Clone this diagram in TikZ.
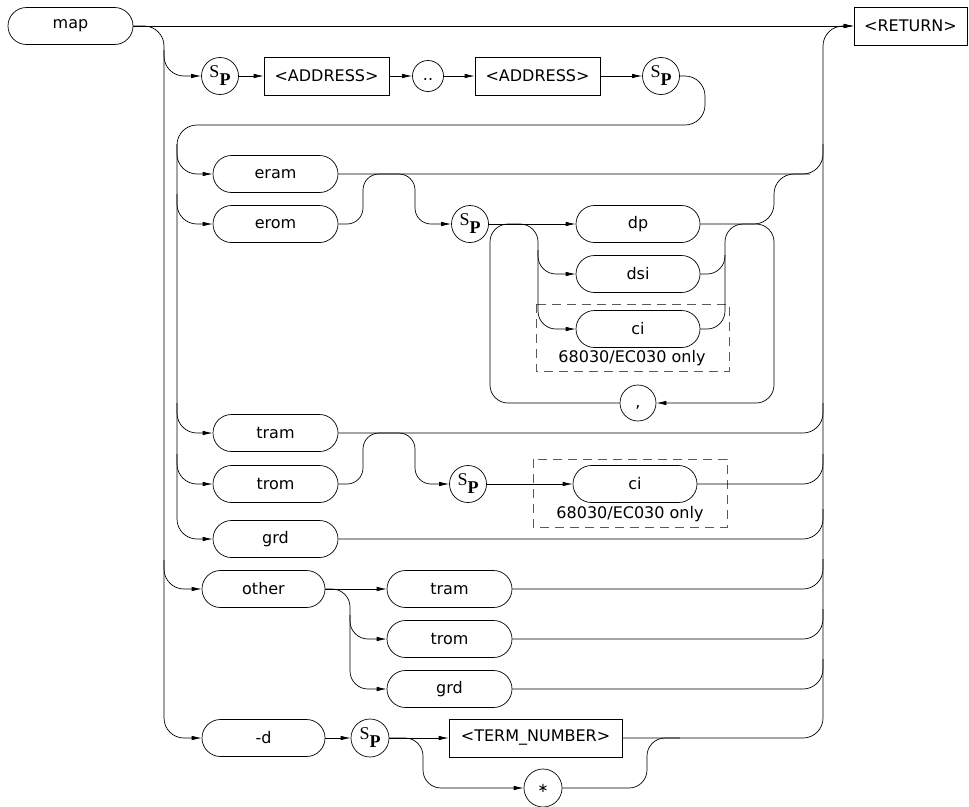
\documentclass[tikz,border=0pt]{standalone}
\usepackage{fontspec}
\setmainfont{DejaVu Sans}
\newfontfamily\spfont{Liberation Serif}
\usetikzlibrary{arrows.meta,shapes.misc}

\begin{document}
\begin{tikzpicture}[
      x=1pt, y=-1pt,
      line width=0.7pt,
      font=\fontsize{16}{18}\selectfont,
      keyword/.style={draw, rounded rectangle, minimum width=125pt, minimum height=37pt, inner sep=0pt},
      param/.style={draw, rectangle, minimum height=38pt, inner sep=4pt},
      token/.style={draw, circle, minimum size=37pt, inner sep=0pt},
      flow/.style={-{Latex[length=10pt,width=4.5pt]}},
      optional/.style={draw=black!65, dash pattern=on 9pt off 6pt},
      rail/.style={rounded corners=20pt},
  ]
  \useasboundingbox (0,0) rectangle (969,806);

  % Ký hiệu khoảng trắng S_P
  \def\sptext{{\spfont\fontsize{18}{18}\selectfont S\raisebox{-8pt}{\bfseries P}}}

  % Lệnh và kết thúc
  \node[keyword] (map) at (70.5,26) {map};
  \node[param, minimum width=113pt] (ret) at (910.5,26) {<RETURN>};

  % Hàng địa chỉ
  \node[token] (sp1) at (220,76) {\sptext};
  \node[param, minimum width=125pt] (addr1) at (326.5,76) {<ADDRESS>};
  \node[token, minimum size=31pt] (dots) at (428,76) {\vphantom{Ag}..};
  \node[param, minimum width=125pt] (addr2) at (537.5,76) {<ADDRESS>};
  \node[token] (sp2) at (661,76) {\sptext};

  % Các loại bộ nhớ
  \foreach \name/\y in {eram/174, erom/224, tram/433, trom/484, grd/539} {
      \node[keyword] (\name) at (275.5,\y) {\name};
  }

  % Thuộc tính sau erom
  \node[token] (sp3) at (470,224) {\sptext};
  \node[keyword, minimum width=124pt] (dp) at (638,224) {dp};
  \node[keyword, minimum width=124pt] (dsi) at (638,274) {dsi};
  \node[keyword, minimum width=124pt] (ci1) at (638,329) {ci};
  \node[token, minimum size=36pt] (comma) at (638,403) {\vphantom{Ag},};
  \draw[optional] (536,304) rectangle (729,371);
  \node (note1) at (632,358) {68030/EC030 only};

  % Thuộc tính sau trom
  \node[token] (sp4) at (468,484) {\sptext};
  \node[keyword, minimum width=124pt] (ci2) at (635,484) {ci};
  \draw[optional] (533,459) rectangle (727,527);
  \node (note2) at (630,514) {68030/EC030 only};

  % Nhánh other
  \node[keyword, minimum width=123pt] (other) at (263.5,589) {other};
  \foreach \name/\txt/\y in {tramb/tram/589, tromb/trom/639, grdb/grd/689} {
      \node[keyword] (\name) at (449.5,\y) {\txt};
  }

  % Nhánh -d
  \node[keyword, minimum width=123pt] (dopt) at (263.5,738) {-d};
  \node[token, minimum size=38pt] (sp5) at (370,738) {\sptext};
  \node[param, minimum width=173pt] (tnum) at (535.5,738) {<TERM\_NUMBER>};
  \node[token, minimum size=38pt] (star) at (543,788) {\fontsize{13}{13}\selectfont ∗};

  % Đường chính và hai trục dọc
  \draw[flow] (map.east) -- (ret.west);
  \draw[flow, rail] (map.east) -- (164,26) -- (164,738) -- (dopt.west);
  \draw[flow, rail] (tnum.east) -- (823,738) -- (823,26) -- (ret.west);
  \draw[flow, rail] (164,50) -- (164,76) -- (sp1.west);
  \draw[flow, rail] (164,560) -- (164,589) -- (other.west);

  % Hàng địa chỉ quay về trục trong
  \draw[flow] (sp1.east) -- (addr1.west);
  \draw[flow] (addr1.east) -- (dots.west);
  \draw[flow] (dots.east) -- (addr2.west);
  \draw[flow] (addr2.east) -- (sp2.west);
  \draw[flow, rail] (sp2.east) -- (705,76) -- (705,125) -- (177,125) -- (177,539) -- (grd.west);
  \foreach \n/\y in {eram/174, erom/224, tram/433, trom/484} {
      \draw[flow, rail] (177,\y-30) -- (177,\y) -- (\n.west);
  }

  % Nối vào trục phải
  \foreach \n/\y in {eram/174, tram/433, ci2/484, grd/539, tramb/589, tromb/639, grdb/689} {
      \draw[rail] (\n.east) -- (823,\y) -- (823,\y-30);
  }

  % erom và trom vượt qua đường phía trên
  \draw[flow, rounded corners=16pt] (erom.east) -- (363,224) -- (363,174) -- (415,174) -- (415,224) -- (sp3.west);
  \draw[flow, rounded corners=16pt] (trom.east) -- (363,484) -- (363,433) -- (415,433) -- (415,484) -- (sp4.west);
  \draw[flow] (sp4.east) -- (ci2.west);

  % Vòng lặp dp / dsi / ci
  \draw[flow] (sp3.east) -- (dp.west);
  \draw[flow, rounded corners=18pt] (comma.west) -- (490,403) -- (490,224) -- (538,224) -- (538,274) -- (dsi.west);
  \draw[flow, rounded corners=18pt] (538,250) -- (538,329) -- (ci1.west);
  \draw[rounded corners=18pt] (ci1.east) -- (725,329) -- (725,255);
  \draw[flow, rounded corners=18pt] (dsi.east) -- (725,274) -- (725,224) -- (774,224) -- (774,403) -- (comma.east);
  \draw[rounded corners=20pt] (dp.east) -- (774,224) -- (774,174) -- (810,174);

  % other -> tram / trom / grd
  \draw[flow] (other.east) -- (tramb.west);
  \draw[flow, rounded corners=18pt] (other.east) -- (350,589) -- (350,639) -- (tromb.west);
  \draw[flow, rounded corners=18pt] (350,615) -- (350,689) -- (grdb.west);

  % -d SP <TERM_NUMBER> hoặc *
  \draw[flow] (dopt.east) -- (sp5.west);
  \draw[flow] (sp5.east) -- (tnum.west);
  \draw[flow, rounded corners=18pt] (sp5.east) -- (423,738) -- (423,788) -- (star.west);
  \draw[rounded corners=18pt] (star.east) -- (647,788) -- (647,738) -- (680,738);
\end{tikzpicture}
\end{document}
